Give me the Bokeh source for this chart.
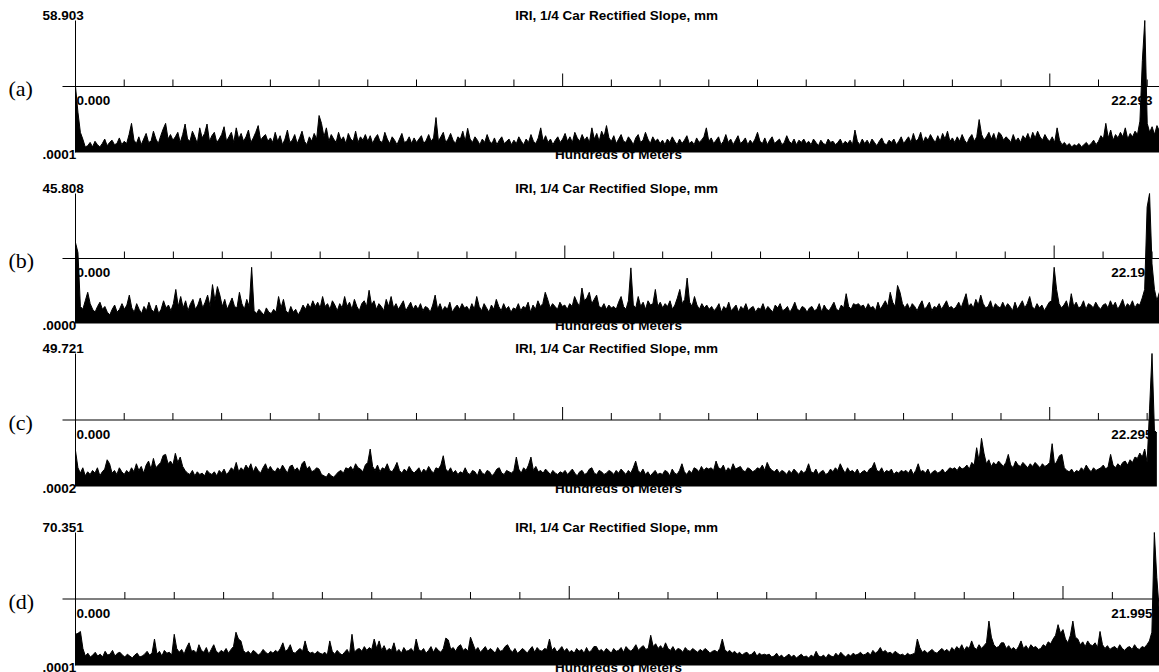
from bokeh.plotting import figure
from bokeh.models import Range1d, Label
from bokeh.layouts import column
from bokeh.embed import file_html
from bokeh.resources import INLINE

# ---------------- data ----------------
DX = 0.05  # hundreds of metres between samples
TITLE = "IRI, 1/4 Car Rectified Slope,  mm"
XLABEL = "Hundreds of Meters"
TAGS = ["(a)", "(b)", "(c)", "(d)"]
YMAX = [58.903, 45.808, 49.721, 70.351]
YMIN_LABELS = [".0001", ".0000", ".0002", ".0001"]
XMAX = [22.293, 22.194, 22.295, 21.995]
TICKS = list(range(1, 23))
MAJOR_TICKS = [10, 20]

VALUES_A = [
    29.5, 18.0, 9.0, 6.0, 2.5, 3.0, 4.5, 2.5, 5.0, 3.5, 2.5, 4.0, 6.0, 3.0, 4.5, 5.5, 3.5, 4.0, 6.5, 3.5,
    5.0, 4.0, 8.0, 13.0, 5.5, 4.0, 7.0, 3.5, 6.0, 8.5, 4.5, 5.0, 9.5, 6.0, 4.0, 7.5, 10.5, 13.0, 6.0, 8.0,
    5.5, 7.0, 9.0, 4.5, 8.0, 12.7, 6.0, 5.0, 9.5, 7.0, 4.0, 11.0, 6.5, 8.5, 12.7, 5.0, 7.5, 9.0, 4.5, 6.0,
    8.0, 11.5, 5.0, 7.0, 9.0, 4.5, 11.0, 6.0, 8.5, 5.0, 7.0, 10.0, 4.5, 6.5, 9.0, 12.0, 5.5, 7.0, 8.0, 5.0,
    6.5, 4.5, 9.0, 5.0, 7.5, 3.5, 6.0, 10.0, 4.5, 5.5, 8.0, 4.0, 6.5, 9.5, 5.0, 3.5, 7.0, 5.0, 8.5, 6.0,
    16.5, 13.0, 7.0, 11.0, 5.0, 8.0, 6.0, 4.5, 9.0, 5.5, 7.0, 4.0, 8.5, 6.0, 5.0, 9.5, 4.5, 7.0, 5.5, 8.0,
    5.0, 7.5, 4.0, 6.5, 8.0, 5.0, 4.5, 9.0, 6.0, 4.0, 7.0, 5.5, 3.5, 6.0, 8.5, 4.5, 5.0, 7.0, 4.0, 6.5,
    4.5, 6.0, 7.5, 4.0, 5.5, 8.0, 5.0, 6.5, 15.6, 5.0, 7.0, 9.0, 4.5, 6.0, 8.5, 5.5, 4.0, 7.0, 6.0, 9.5,
    5.0, 10.8, 6.0, 4.5, 7.0, 5.5, 3.5, 6.0, 4.5, 8.0, 5.0, 4.0, 6.5, 3.5, 5.5, 7.0, 4.0, 5.0, 6.0, 3.5,
    5.5, 4.0, 7.0, 5.0, 3.5, 6.0, 4.5, 8.0, 5.0, 4.0, 6.5, 11.0, 5.0, 7.5, 4.5, 6.0, 3.5, 5.5, 7.0, 4.5,
    6.0, 8.5, 5.0, 7.0, 4.5, 9.0, 6.5, 5.0, 8.0, 5.5, 7.0, 4.5, 11.0, 6.0, 8.5, 5.0, 9.5, 7.0, 12.0, 6.5,
    5.0, 7.5, 4.0, 6.0, 8.0, 5.0, 4.5, 7.0, 5.5, 3.5, 6.5, 8.0, 4.5, 5.5, 9.0, 6.0, 4.0, 7.0, 5.0, 6.0,
    4.0, 5.5, 3.5, 6.0, 4.5, 7.0, 5.0, 3.5, 6.0, 4.0, 5.5, 7.5, 4.0, 5.0, 3.5, 6.5, 4.5, 5.5, 7.0, 11.0,
    5.0, 6.5, 4.0, 5.5, 7.0, 3.5, 5.0, 8.0, 4.5, 6.0, 3.5, 5.5, 7.5, 4.0, 5.0, 6.5, 3.5, 5.5, 4.0, 6.0,
    9.0, 5.0, 4.0, 6.5, 3.5, 5.5, 7.0, 4.0, 5.0, 6.0, 3.5, 4.5, 7.5, 5.0, 4.0, 6.0, 3.5, 5.5, 4.5, 6.0,
    4.0, 5.0, 3.5, 6.0, 4.5, 3.0, 5.5, 4.0, 3.5, 6.0, 4.5, 5.0, 3.5, 4.5, 6.0, 3.5, 5.0, 4.0, 5.5, 3.5,
    10.0, 5.0, 3.5, 6.0, 4.0, 5.5, 3.5, 6.0, 4.5, 3.0, 5.0, 6.5, 4.0, 3.5, 5.5, 4.5, 6.0, 3.5, 5.0, 7.0,
    4.0, 5.5, 7.0, 4.5, 8.5, 5.0, 6.0, 9.0, 4.5, 7.0, 5.5, 8.0, 6.0, 4.5, 7.5, 5.0, 8.5, 6.0, 9.5, 5.0,
    6.5, 4.5, 7.0, 5.0, 8.0, 5.5, 4.0, 6.5, 8.0, 5.0, 7.0, 14.7, 8.0, 5.5, 7.0, 9.0, 6.0, 8.5, 5.0, 9.0,
    8.0, 5.5, 7.0, 6.0, 4.5, 8.0, 5.0, 6.5, 4.5, 7.5, 6.0, 8.5, 5.5, 9.0, 6.5, 9.5, 7.0, 5.5, 8.0, 6.0,
    5.0, 7.0, 4.5, 11.0, 5.5, 3.5, 4.5, 3.0, 4.0, 2.5, 3.5, 3.0, 4.0, 2.5, 3.5, 4.5, 3.0, 4.0, 5.5, 3.5,
    5.0, 7.5, 6.0, 13.0, 6.5, 10.0, 5.5, 8.0, 6.5, 9.0, 7.0, 11.0, 6.0, 8.5, 7.0, 9.5, 8.0, 14.0, 41.0, 58.903,
    13.0, 9.0, 11.5, 8.0, 12.0, 9.5,
]

VALUES_B = [
    28.5, 25.0, 6.0, 5.0, 8.0, 11.0, 7.0, 5.0, 4.0, 6.0, 7.5, 5.0, 6.0, 4.0, 3.0, 5.0, 6.5, 4.0, 5.0, 7.0,
    5.0, 6.5, 10.0, 5.5, 4.0, 7.0, 5.0, 3.5, 6.0, 4.5, 7.5, 5.0, 4.0, 6.5, 3.5, 5.0, 8.0, 5.5, 6.5, 4.5,
    7.0, 12.0, 6.0, 9.5, 5.5, 8.0, 4.5, 7.0, 8.5, 5.0, 6.5, 9.0, 5.5, 7.5, 10.0, 6.0, 13.7, 8.0, 13.0, 10.0,
    6.0, 8.5, 5.0, 7.0, 9.0, 6.0, 5.5, 11.0, 7.0, 5.0, 8.5, 6.0, 19.8, 4.5, 3.5, 5.0, 4.0, 3.0, 5.5, 4.0,
    3.5, 5.0, 4.0, 9.5, 5.5, 8.5, 4.5, 3.5, 6.0, 4.0, 5.0, 3.0, 4.5, 6.5, 5.0, 7.0, 5.5, 8.0, 6.0, 7.5,
    5.5, 9.5, 6.0, 7.0, 5.0, 8.0, 6.5, 4.5, 7.0, 5.5, 9.5, 6.0, 7.5, 5.0, 8.5, 6.0, 4.5, 7.0, 8.0, 6.0,
    11.7, 6.5, 8.0, 5.0, 7.0, 6.0, 4.5, 8.5, 6.0, 9.5, 5.5, 7.0, 5.0, 6.5, 8.0, 4.5, 6.0, 7.5, 5.0, 6.5,
    5.0, 7.0, 4.5, 6.0, 5.5, 4.0, 6.5, 10.0, 5.0, 7.0, 4.5, 6.0, 5.0, 7.5, 4.0, 5.5, 6.5, 5.0, 7.0, 5.5,
    6.0, 4.5, 7.0, 5.0, 9.5, 6.0, 4.5, 7.0, 5.5, 4.0, 6.5, 5.0, 8.5, 6.0, 4.5, 7.0, 5.0, 6.0, 4.0, 5.5,
    5.0, 7.0, 4.5, 6.0, 5.5, 7.5, 4.0, 6.5, 5.0, 8.0, 6.0, 7.0, 11.0, 8.5, 5.5, 7.0, 6.0, 5.0, 7.5, 6.0,
    6.5, 5.0, 7.0, 6.0, 9.5, 7.5, 6.0, 12.5, 8.0, 9.0, 11.0, 7.0, 8.5, 10.0, 6.0, 5.5, 7.0, 5.0, 6.5, 5.5,
    6.0, 5.0, 7.5, 9.5, 6.0, 5.0, 8.0, 19.6, 6.5, 5.5, 9.5, 6.0, 7.5, 5.0, 8.0, 6.5, 7.0, 12.0, 6.0, 7.5,
    5.5, 7.0, 6.0, 8.0, 5.0, 6.5, 9.0, 12.0, 7.0, 8.5, 16.0, 7.5, 6.0, 9.5, 6.5, 5.0, 7.0, 5.5, 6.5, 5.0,
    6.0, 4.5, 5.5, 7.0, 4.0, 6.0, 5.0, 7.5, 4.5, 5.5, 6.5, 4.0, 6.0, 5.0, 7.0, 4.5, 5.5, 6.0, 4.0, 5.5,
    5.0, 7.0, 4.5, 6.0, 5.0, 4.0, 6.5, 5.5, 7.0, 4.5, 5.0, 6.0, 4.0, 5.5, 7.5, 5.0, 4.5, 6.0, 5.5, 4.0,
    5.5, 6.0, 4.5, 5.0, 7.0, 4.0, 6.5, 5.0, 4.5, 6.0, 7.5, 5.0, 4.5, 6.5, 5.5, 10.5, 6.0, 5.0, 7.0, 6.5,
    7.0, 6.0, 6.5, 5.0, 7.0, 5.5, 6.0, 4.5, 7.5, 5.0, 6.5, 8.0, 6.0, 11.0, 7.5, 6.0, 13.4, 11.0, 7.0, 5.5,
    7.0, 5.0, 7.0, 6.0, 4.5, 6.5, 8.0, 5.0, 6.0, 7.5, 4.5, 6.0, 5.5, 7.0, 5.0, 6.5, 8.0, 5.5, 6.0, 5.0,
    6.0, 7.5, 5.5, 8.0, 10.5, 6.0, 7.0, 5.5, 8.5, 6.5, 10.0, 7.0, 5.5, 6.0, 8.0, 5.0, 7.0, 6.0, 5.5, 7.5,
    5.5, 7.0, 6.0, 4.5, 7.5, 5.0, 6.5, 8.0, 5.5, 7.0, 9.5, 6.0, 5.0, 7.0, 5.5, 6.5, 4.5, 6.0, 7.5, 8.0,
    19.8, 12.0, 7.0, 5.5, 6.5, 8.0, 5.0, 10.5, 6.0, 7.5, 5.5, 6.0, 8.0, 5.0, 7.0, 6.5, 5.5, 7.5, 6.0, 5.0,
    6.5, 7.0, 5.5, 8.0, 6.0, 7.5, 5.0, 6.5, 8.5, 5.5, 7.0, 6.0, 8.0, 5.5, 7.0, 6.5, 9.0, 12.0, 41.0, 45.808,
    21.0, 12.0, 8.0, 11.0,
]

VALUES_C = [
    13.4, 7.0, 5.0, 7.0, 4.0, 5.5, 4.5, 6.0, 5.0, 7.0, 4.0, 5.5, 6.5, 10.0, 8.5, 5.0, 6.0, 4.5, 7.0, 5.5,
    4.5, 6.0, 5.0, 7.0, 5.5, 8.5, 6.0, 7.5, 5.0, 8.0, 9.5, 6.5, 10.5, 7.0, 8.0, 9.0, 11.6, 12.0, 8.5, 9.5,
    8.0, 12.4, 9.0, 11.0, 7.5, 6.0, 5.0, 4.5, 6.0, 4.0, 5.5, 4.5, 5.0, 4.0, 6.0, 5.0, 4.5, 5.5, 4.0, 6.0,
    5.0, 6.5, 4.5, 5.5, 7.0, 6.0, 9.0, 5.5, 7.0, 6.0, 8.0, 6.5, 8.5, 5.5, 7.5, 6.0, 5.0, 7.0, 8.5, 6.0,
    7.5, 6.0, 5.5, 7.0, 6.0, 8.0, 6.5, 5.0, 7.5, 8.0, 6.0, 7.0, 5.5, 8.5, 9.5, 6.5, 7.5, 5.5, 6.0, 7.0,
    6.5, 4.5, 4.0, 3.5, 5.0, 4.0, 3.5, 4.5, 5.5, 6.0, 5.0, 7.0, 6.5, 7.5, 6.0, 8.5, 7.0, 6.5, 5.5, 8.0,
    9.0, 14.0, 7.5, 6.0, 8.0, 5.5, 7.0, 6.5, 8.5, 6.0, 5.5, 7.0, 9.0, 6.0, 5.0, 6.5, 5.5, 7.5, 6.0, 5.0,
    6.0, 7.0, 5.0, 6.5, 5.5, 7.5, 6.0, 5.0, 7.0, 6.5, 8.0, 11.5, 6.5, 5.5, 7.0, 5.0, 6.0, 4.5, 5.5, 5.0,
    7.0, 5.0, 4.5, 6.0, 5.5, 4.0, 6.5, 5.0, 4.5, 6.0, 5.5, 4.0, 5.0, 6.5, 7.0, 5.0, 4.5, 6.0, 5.5, 5.0,
    6.0, 11.0, 6.5, 5.0, 7.0, 6.0, 8.0, 11.0, 6.0, 7.5, 5.5, 6.0, 5.0, 6.5, 5.5, 4.5, 6.0, 5.0, 4.5, 5.5,
    5.0, 6.0, 4.5, 5.5, 6.5, 5.0, 4.0, 5.5, 6.0, 4.5, 5.0, 6.5, 7.0, 5.0, 4.5, 6.0, 5.5, 4.5, 5.0, 6.0,
    5.5, 4.5, 6.0, 5.0, 6.5, 5.5, 4.5, 6.0, 5.0, 7.0, 9.5, 6.0, 5.0, 6.5, 4.5, 5.5, 4.0, 5.0, 6.0, 4.5,
    5.0, 4.5, 6.0, 5.5, 4.0, 6.5, 5.0, 4.5, 6.0, 8.5, 5.5, 4.5, 6.0, 5.0, 7.0, 6.5, 5.5, 7.5, 6.0, 7.0,
    6.5, 7.0, 6.0, 9.5, 7.0, 6.5, 8.0, 5.5, 7.0, 6.0, 8.5, 6.5, 7.0, 7.5, 6.0, 5.5, 7.0, 6.5, 5.5, 6.0,
    7.0, 6.5, 8.0, 6.0, 9.0, 7.0, 6.0, 5.5, 6.5, 5.0, 6.0, 5.5, 4.5, 6.0, 5.0, 6.5, 5.5, 4.5, 6.0, 5.0,
    6.0, 8.5, 5.5, 5.0, 6.5, 4.5, 5.5, 6.0, 4.5, 5.0, 6.5, 5.5, 7.0, 6.0, 8.5, 6.5, 5.0, 7.0, 5.5, 6.0,
    5.0, 6.5, 4.5, 5.5, 6.0, 5.0, 6.5, 7.0, 9.0, 6.0, 5.5, 7.0, 5.0, 6.0, 5.5, 6.5, 4.5, 5.5, 5.0, 6.0,
    5.5, 6.0, 5.0, 6.5, 4.5, 6.0, 8.5, 5.5, 6.0, 5.0, 6.5, 4.5, 5.5, 6.0, 5.0, 5.5, 6.5, 5.0, 6.0, 7.0,
    6.5, 7.0, 6.0, 7.5, 6.5, 7.0, 8.0, 6.5, 9.0, 8.0, 14.5, 9.5, 18.0, 12.5, 8.5, 10.0, 7.5, 9.0, 8.0, 9.5,
    8.5, 7.5, 9.0, 12.0, 8.0, 7.0, 9.5, 8.0, 7.5, 9.0, 8.0, 7.0, 8.5, 7.5, 9.0, 8.0, 7.0, 8.5, 7.5, 8.0,
    9.0, 16.0, 8.0, 9.5, 11.5, 12.0, 7.0, 6.0, 5.5, 6.5, 5.0, 6.0, 5.5, 7.0, 6.0, 8.0, 6.5, 5.5, 7.0, 6.0,
    6.5, 7.0, 8.0, 6.5, 7.5, 12.0, 8.0, 7.0, 8.5, 7.5, 9.0, 9.5, 8.0, 10.0, 9.0, 11.0, 10.5, 12.5, 11.0, 14.0,
    9.0, 29.0, 49.721, 21.0, 20.0,
]

VALUES_D = [
    16.5, 17.0, 18.0, 9.0, 5.0, 6.5, 4.5, 5.5, 7.0, 5.0, 6.0, 4.5, 7.5, 5.5, 6.0, 8.0, 5.0, 6.5, 7.0, 5.5,
    4.5, 6.0, 5.0, 4.0, 5.5, 6.5, 4.5, 5.0, 6.0, 7.5, 5.5, 6.5, 14.0, 6.0, 7.5, 5.0, 8.0, 6.5, 7.0, 5.5,
    16.5, 9.0, 7.0, 8.5, 6.0, 9.5, 12.0, 7.5, 8.0, 6.5, 11.0, 8.0, 7.0, 9.5, 6.0, 8.5, 11.0, 7.5, 6.5, 8.0,
    7.0, 9.0, 6.5, 8.5, 10.0, 17.6, 14.0, 13.0, 8.0, 6.5, 7.5, 6.0, 8.0, 7.0, 5.5, 6.5, 8.5, 7.0, 6.0, 7.5,
    6.5, 8.0, 7.0, 9.0, 12.0, 7.5, 8.5, 11.0, 7.0, 6.5, 8.0, 9.0, 7.5, 13.0, 8.0, 6.5, 7.0, 6.0, 7.5, 6.5,
    6.0, 7.0, 5.5, 13.0, 7.5, 6.0, 8.0, 6.5, 5.5, 7.0, 8.5, 6.0, 16.5, 7.0, 8.5, 9.0, 7.5, 10.0, 8.0, 9.5,
    8.5, 14.0, 9.0, 13.0, 8.0, 10.5, 7.5, 9.0, 8.0, 12.0, 7.0, 8.5, 6.5, 9.5, 7.5, 8.0, 9.0, 7.0, 14.0, 8.5,
    7.5, 9.0, 6.5, 8.0, 10.0, 7.0, 9.5, 8.0, 7.0, 9.0, 14.5, 13.5, 8.5, 9.5, 7.5, 10.0, 11.0, 8.0, 9.0, 7.5,
    15.0, 11.5, 8.0, 9.5, 7.0, 8.5, 10.0, 7.5, 9.0, 8.0, 6.5, 9.5, 7.5, 8.0, 10.0, 11.0, 8.5, 7.0, 9.0, 6.5,
    7.5, 9.0, 8.0, 6.5, 8.5, 10.0, 7.0, 9.5, 8.0, 7.5, 9.0, 8.5, 14.0, 8.0, 9.5, 7.0, 8.5, 10.0, 7.5, 9.0,
    7.0, 8.0, 6.5, 9.0, 7.5, 8.5, 6.5, 9.5, 7.0, 8.0, 10.0, 10.0, 7.5, 8.5, 7.0, 9.0, 8.0, 6.5, 9.0, 7.5,
    8.0, 9.5, 7.0, 10.0, 8.5, 7.5, 9.0, 11.0, 8.0, 9.5, 10.5, 8.5, 9.0, 16.0, 10.0, 11.5, 9.0, 10.5, 8.5, 12.0,
    9.0, 8.0, 10.0, 7.5, 9.0, 8.5, 7.0, 9.5, 8.0, 7.5, 9.0, 8.0, 7.0, 8.5, 7.5, 9.0, 8.0, 6.5, 7.5, 8.0,
    7.0, 9.0, 14.0, 8.5, 7.0, 8.0, 6.5, 7.5, 6.0, 7.0, 5.5, 6.5, 7.0, 5.5, 6.0, 7.5, 5.0, 6.5, 5.5, 6.0,
    5.5, 6.0, 4.5, 5.0, 6.5, 4.5, 5.5, 4.0, 5.0, 6.0, 4.5, 5.5, 4.0, 5.0, 6.0, 4.5, 5.0, 4.0, 5.5, 4.5,
    7.5, 5.0, 4.5, 5.5, 4.0, 6.0, 5.0, 4.5, 6.5, 5.0, 7.0, 5.5, 4.5, 6.0, 5.0, 6.5, 5.5, 6.0, 7.0, 5.5,
    6.0, 7.0, 5.5, 8.0, 6.5, 7.5, 9.5, 7.0, 8.0, 6.5, 7.0, 6.0, 7.5, 6.5, 5.5, 6.0, 5.0, 6.5, 5.5, 6.0,
    6.5, 14.0, 9.5, 7.0, 8.0, 6.5, 7.5, 8.5, 7.0, 6.5, 8.0, 9.0, 7.5, 8.5, 7.0, 9.5, 8.0, 10.0, 8.5, 11.0,
    8.0, 10.0, 9.0, 13.0, 9.5, 8.5, 11.0, 9.0, 10.5, 12.0, 23.5, 15.0, 11.0, 9.5, 10.0, 12.0, 12.0, 9.0, 10.5, 8.5,
    9.5, 8.0, 10.0, 13.0, 9.0, 10.5, 8.5, 11.0, 9.5, 10.0, 8.5, 9.0, 11.0, 10.0, 12.5, 11.5, 14.0, 16.0, 21.6, 17.0,
    19.0, 14.0, 12.0, 16.0, 23.5, 15.0, 14.0, 11.0, 12.5, 10.0, 13.0, 11.0, 10.5, 12.0, 9.5, 18.0, 11.0, 9.0, 10.5, 8.5,
    9.5, 10.0, 8.5, 11.0, 9.0, 8.0, 9.5, 10.0, 8.5, 11.0, 9.0, 8.5, 10.0, 9.5, 11.0, 13.0, 17.6, 70.351, 46.5, 29.0,
]

SERIES = [VALUES_A, VALUES_B, VALUES_C, VALUES_D]

# ---------------- layout (pixels) ----------------
WIDTH = 1159
LINE_START_PX = 62   # where the horizontal axis line starts
ZERO_PX = 75         # x pixel of distance 0 / vertical axis
SPAN_PX = 1086       # pixels covered by the full distance
TITLE_CX = 618       # centre of the title / x label
# (space above plot area, plot-area height, space below) for each panel
BORDERS = [(20, 132, 18), (23, 130, 17), (13, 133, 21), (25, 133, 7)]

SANS = "Liberation Sans"
SERIF = "Liberation Serif"


def lab(p, x, y, text, **kw):
    opts = dict(text_font=SANS, text_font_style="bold", text_font_size="13.5px",
                text_color="black", text_baseline="middle")
    opts.update(kw)
    p.add_layout(Label(x=x, y=y, text=text, **opts))


figs = []
for k in range(4):
    top, fh, bot = BORDERS[k]
    ymax, xmax = YMAX[k], XMAX[k]
    sx = SPAN_PX / xmax            # pixels per hundred metres
    sy = fh / ymax                 # pixels per mm
    x0 = -ZERO_PX / sx
    x1 = (WIDTH - ZERO_PX) / sx
    y0 = -bot / sy
    y1 = ymax + top / sy
    p = figure(width=WIDTH, height=top + fh + bot, output_backend="svg",
               toolbar_location=None, title=None,
               x_range=Range1d(x0, x1), y_range=Range1d(y0, y1),
               x_axis_location=None, y_axis_location=None,
               min_border=0)
    p.grid.visible = False
    p.outline_line_color = None
    p.background_fill_color = "white"
    p.border_fill_color = "white"

    # x-axis label underneath the data
    lab(p, (TITLE_CX - ZERO_PX) / sx, 0, XLABEL, text_align="center",
        y_offset=-2, level="underlay")

    vals = SERIES[k]
    xs = [i * DX for i in range(len(vals))]
    p.varea(x=xs, y1=[0] * len(vals), y2=vals, fill_color="black")
    p.line(x=xs, y=vals, line_color="black", line_width=1)

    mid = ymax / 2
    # axis lines
    p.segment(x0=[0], y0=[0], x1=[0], y1=[ymax], line_color="black", line_width=1)
    p.segment(x0=[(LINE_START_PX - ZERO_PX) / sx], y0=[mid], x1=[x1], y1=[mid],
              line_color="black", line_width=1.2)
    minor = [t for t in TICKS if t <= xmax and t not in MAJOR_TICKS]
    major = [t for t in MAJOR_TICKS if t <= xmax]
    p.ray(x=minor, y=[mid] * len(minor), length=7, angle=90, angle_units="deg",
          length_units="screen", line_color="black", line_width=1)
    p.ray(x=major, y=[mid] * len(major), length=13, angle=90, angle_units="deg",
          length_units="screen", line_color="black", line_width=1)

    # texts
    lab(p, 0, ymax, f"{ymax:.3f}", text_align="left", x_offset=-33, y_offset=5)
    lab(p, (TITLE_CX - ZERO_PX) / sx, ymax, TITLE, text_align="center", y_offset=5)
    lab(p, 0, 0, YMIN_LABELS[k], text_align="left", x_offset=-33, y_offset=-1.5)
    lab(p, 0, mid, "0.000", text_align="left", x_offset=1, y_offset=-14)
    lab(p, x1, mid, f"{xmax:.3f}", text_align="right", x_offset=-7, y_offset=-14)
    lab(p, 0, mid, TAGS[k], text_font=SERIF, text_font_style="normal",
        text_font_size="22px", text_align="left", x_offset=-67, y_offset=-2)
    figs.append(p)

layout = column(*figs, spacing=0)
open("out.html", "w").write(file_html(layout, INLINE))
